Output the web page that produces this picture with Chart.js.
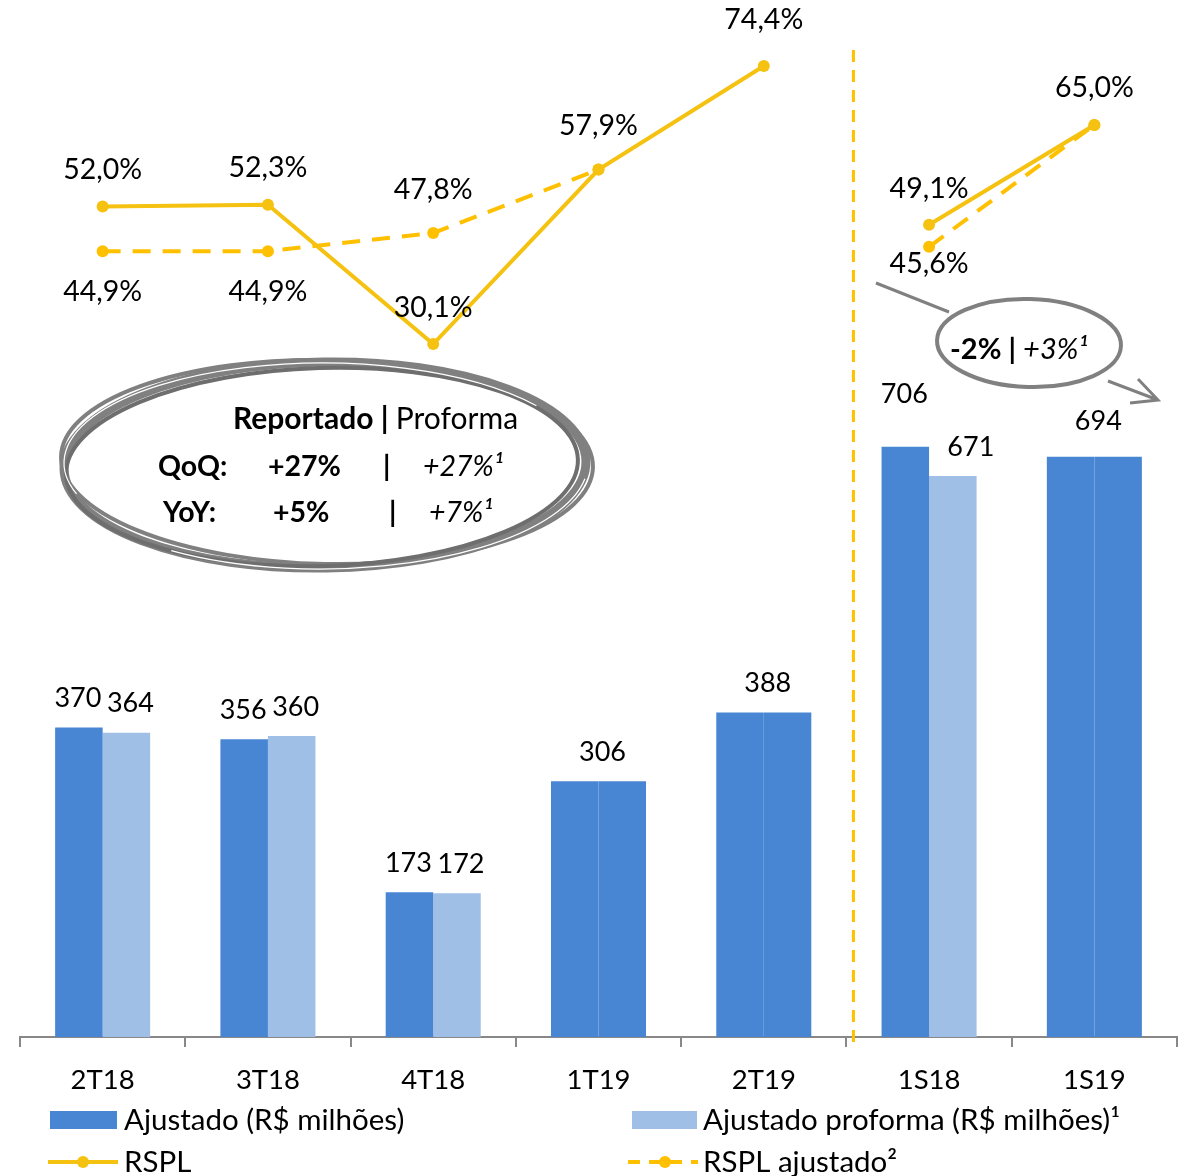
<!DOCTYPE html>
<html>
<head>
<meta charset="utf-8">
<script src="https://cdn.jsdelivr.net/npm/chart.js@4.4.1/dist/chart.umd.min.js"></script>
<style>
  html, body { margin: 0; padding: 0; background: #fff; }
  #wrap { width: 1188px; height: 1176px; position: relative; }
</style>
</head>
<body>
<div id="wrap"><canvas id="chart"></canvas></div>
<script>
const categories = ['2T18', '3T18', '4T18', '1T19', '2T19', '1S18', '1S19'];
const ajustado = [370, 356, 173, 306, 388, 706, 694];
const proforma = [364, 360, 172, 306, 388, 671, 694];
const rspl = [52.0, 52.3, 30.1, 57.9, 74.4, 49.1, 65.0];
const rsplAjustado = [44.9, 44.9, 47.8, 57.9, null, 45.6, 65.0];

const FONT = 'Lato, "Open Sans", sans-serif';
const DARK = '#4886d4';
const LIGHT = '#a0bfe6';
const GOLD = '#f5c211';
const GOLD2 = '#ffc000';
const GRAY = '#808080';

// label offsets (dx, dy) relative to the point / bar top
const rsplOffsets = [[0, -37], [0, -37], [0, -36], [0, -44], [0, -46], [0, -36], [0, -37]];
const rsplAjOffsets = [[0, 41], [0, 41], [0, -43], null, null, [0, 17], null];

const fmtPct = (v) => v.toFixed(1).replace('.', ',') + '%';

const labelsPlugin = {
  id: 'labels',
  afterDatasetsDraw(chart) {
    const ctx = chart.ctx;
    ctx.save();
    ctx.fillStyle = '#000';
    ctx.font = '27px ' + FONT;
    ctx.textAlign = 'center';
    ctx.textBaseline = 'middle';
    const mA = chart.getDatasetMeta(0), mP = chart.getDatasetMeta(1);
    const xs = chart.scales.x;
    categories.forEach((c, i) => {
      if (proforma[i] === ajustado[i]) {
        const cx = xs.getPixelForValue(i);
        const top = mA.data[i].y;
        const dy = i === 6 ? -35 : -29;
        ctx.fillText(String(ajustado[i]), cx + 4, top + dy);
      } else {
        const a = mA.data[i], p = mP.data[i];
        const dyA = i === 5 ? -52 : -29;
        const dxP = i === 5 ? 18 : 4;
        ctx.fillText(String(ajustado[i]), a.x - 1, a.y + dyA);
        ctx.fillText(String(proforma[i]), p.x + dxP, p.y - 29);
      }
    });
    ctx.font = '28.5px ' + FONT;
    const mR = chart.getDatasetMeta(2), mRA = chart.getDatasetMeta(3);
    rspl.forEach((v, i) => {
      const pt = mR.data[i], o = rsplOffsets[i];
      ctx.fillText(fmtPct(v), pt.x + o[0], pt.y + o[1]);
    });
    rsplAjustado.forEach((v, i) => {
      const o = rsplAjOffsets[i];
      if (v === null || !o) return;
      const pt = mRA.data[i];
      ctx.fillText(fmtPct(v), pt.x + o[0], pt.y + o[1]);
    });
    ctx.restore();
  }
};

function runs(ctx, parts, x, y) {
  // parts: [text, fontSpec]
  let cx = x;
  parts.forEach(([t, f]) => {
    ctx.font = f;
    ctx.fillText(t, cx, y);
    cx += ctx.measureText(t).width;
  });
}

const decorPlugin = {
  id: 'decor',
  beforeDatasetsDraw(chart) {
    const ctx = chart.ctx, xs = chart.scales.x;
    const x = (xs.getPixelForValue(4) + xs.getPixelForValue(5)) / 2 + 7;
    ctx.save();
    ctx.strokeStyle = GOLD2;
    ctx.lineWidth = 3;
    ctx.setLineDash([12, 8]);
    ctx.beginPath();
    ctx.moveTo(x, 50);
    ctx.lineTo(x, 1047);
    ctx.stroke();
    ctx.restore();
  },
  afterDraw(chart) {
    const ctx = chart.ctx;
    ctx.save();
    // big sketchy ellipse
    ctx.strokeStyle = GRAY;
    ctx.lineWidth = 9;
    ctx.beginPath(); ctx.ellipse(325, 465, 261, 103, -0.015, 0, Math.PI * 2); ctx.stroke();
    ctx.lineWidth = 4;
    ctx.beginPath(); ctx.ellipse(327, 462, 266, 102, 0.02, 0, Math.PI * 2); ctx.stroke();
    ctx.strokeStyle = '#6e6e6e';
    ctx.lineWidth = 4;
    ctx.beginPath(); ctx.ellipse(322, 467, 256, 99, -0.03, 0, Math.PI * 2); ctx.stroke();
    ctx.strokeStyle = '#fff';
    ctx.lineWidth = 1.2;
    ctx.beginPath(); ctx.ellipse(325, 464, 261, 101, 0.005, Math.PI * 0.9, Math.PI * 1.8); ctx.stroke();
    ctx.beginPath(); ctx.ellipse(325, 465, 263, 104, -0.01, Math.PI * 0.05, Math.PI * 0.7); ctx.stroke();

    ctx.fillStyle = '#000';
    ctx.textBaseline = 'middle';
    ctx.textAlign = 'left';
    const B = 'bold 30px ' + FONT, R = '30px ' + FONT;
    const B2 = 'bold 28.5px ' + FONT, I = 'italic 28.5px ' + FONT;
    runs(ctx, [['Reportado ', B], ['| ', B], ['Proforma', R]], 233, 419);
    runs(ctx, [['QoQ:', B2]], 158, 467);
    runs(ctx, [['+27%', B2]], 268, 467);
    runs(ctx, [['|', B2]], 383, 467);
    runs(ctx, [['+27%\u00b9', I]], 423, 467);
    runs(ctx, [['YoY:', B2]], 163, 513);
    runs(ctx, [['+5%', B2]], 273, 513);
    runs(ctx, [['|', B2]], 389, 513);
    runs(ctx, [['+7%\u00b9', I]], 429, 513);

    // small ellipse with arrow
    ctx.strokeStyle = GRAY;
    ctx.lineWidth = 4;
    ctx.beginPath(); ctx.ellipse(1029, 343, 92, 44, 0.03, 0, Math.PI * 2); ctx.stroke();
    ctx.lineWidth = 3;
    ctx.beginPath();
    ctx.moveTo(876, 283); ctx.lineTo(949, 312);
    ctx.moveTo(1108, 381); ctx.lineTo(1158, 400);
    ctx.moveTo(1138, 379); ctx.lineTo(1158, 400); ctx.lineTo(1130, 403);
    ctx.stroke();
    runs(ctx, [['-2% | ', 'bold 29px ' + FONT], ['+3%\u00b9', 'italic 29px ' + FONT]], 950, 350);

    // legend
    ctx.font = '29.5px ' + FONT;
    ctx.fillStyle = DARK; ctx.fillRect(50, 1111, 67, 18);
    ctx.fillStyle = LIGHT; ctx.fillRect(632, 1111, 65, 18);
    ctx.strokeStyle = GOLD; ctx.lineWidth = 4; ctx.setLineDash([]);
    ctx.beginPath(); ctx.moveTo(48, 1162); ctx.lineTo(118, 1162); ctx.stroke();
    ctx.fillStyle = GOLD; ctx.beginPath(); ctx.arc(83, 1162, 6, 0, Math.PI * 2); ctx.fill();
    ctx.strokeStyle = GOLD2; ctx.setLineDash([12, 9]);
    ctx.beginPath(); ctx.moveTo(628, 1162); ctx.lineTo(698, 1162); ctx.stroke();
    ctx.setLineDash([]);
    ctx.fillStyle = GOLD2; ctx.beginPath(); ctx.arc(665, 1162, 6, 0, Math.PI * 2); ctx.fill();
    ctx.fillStyle = '#000';
    ctx.fillText('Ajustado (R$ milh\u00f5es)', 124, 1120);
    ctx.fillText('Ajustado proforma (R$ milh\u00f5es)\u00b9', 703, 1120);
    ctx.fillText('RSPL', 124, 1162);
    ctx.fillText('RSPL ajustado\u00b2', 703, 1162);
    ctx.restore();
  }
};

new Chart(document.getElementById('chart'), {
  data: {
    labels: categories,
    datasets: [
      { type: 'bar', label: 'Ajustado (R$ milhões)', data: ajustado, backgroundColor: DARK, yAxisID: 'y', order: 2,
        categoryPercentage: 0.575, barPercentage: 1.0 },
      { type: 'bar', label: 'Ajustado proforma (R$ milhões)¹', data: proforma,
        backgroundColor: proforma.map((v, i) => v === ajustado[i] ? DARK : LIGHT), yAxisID: 'y', order: 2,
        categoryPercentage: 0.575, barPercentage: 1.0 },
      { type: 'line', label: 'RSPL', data: rspl, yAxisID: 'y2', order: 0,
        borderColor: GOLD, backgroundColor: GOLD, borderWidth: 4, pointRadius: 6, pointBorderWidth: 0,
        segment: { borderColor: (c) => c.p0DataIndex === 4 ? 'rgba(0,0,0,0)' : GOLD } },
      { type: 'line', label: 'RSPL ajustado²', data: rsplAjustado, yAxisID: 'y2', order: 1,
        borderColor: GOLD2, backgroundColor: GOLD2, borderWidth: 4, borderDash: [18, 12], pointRadius: 6,
        pointBorderWidth: 0, spanGaps: false }
    ]
  },
  options: {
    responsive: true,
    maintainAspectRatio: false,
    animation: false,
    layout: { padding: { left: 20, right: 11, top: 0, bottom: 0 } },
    plugins: { legend: { display: false }, tooltip: { enabled: false } },
    scales: {
      x: {
        offset: true,
        afterFit(scale) { scale.height = 139; },
        grid: { offset: true, drawOnChartArea: false, tickLength: 10, color: '#888', lineWidth: 2 },
        border: { color: '#888', width: 2 },
        ticks: { color: '#000', font: { family: FONT, size: 27.5 }, padding: 17 }
      },
      y: { display: false, min: 0, max: 1233 },
      y2: { display: false, min: -80.25, max: 83.95 }
    }
  },
  plugins: [labelsPlugin, decorPlugin]
});
</script>
</body>
</html>
